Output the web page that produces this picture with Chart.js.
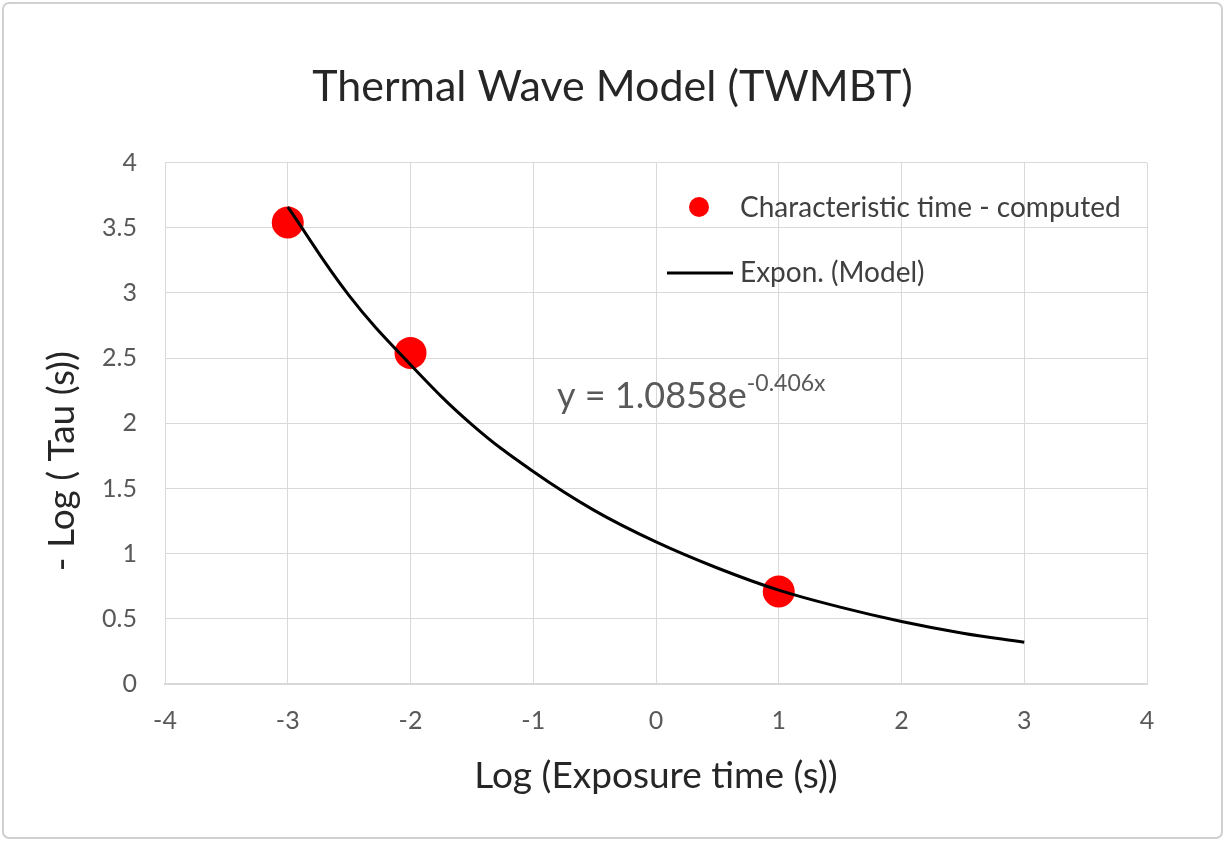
<!DOCTYPE html>
<html>
<head>
<meta charset="utf-8">
<script src="https://cdn.jsdelivr.net/npm/chart.js@4/dist/chart.umd.min.js"></script>
<style>
  body { margin: 0; background: #fff; }
  #wrap { width: 1225px; height: 841px; }
</style>
</head>
<body>
<div id="wrap"><canvas id="mychart" width="1225" height="841"></canvas></div>
<script>
// measured points
const exposureX = [-3, -2, 1];
const tauY = [3.54, 2.54, 0.71];

// trend line
const modelX = [-3, -2.5, -2, -1.5, -1, -0.5, 0, 0.5, 1, 1.5, 2, 2.5, 3];
const modelY = [3.66, 2.98, 2.45, 1.99, 1.63, 1.33, 1.09, 0.89, 0.72, 0.59, 0.48, 0.39, 0.32];

const xTicks = [-4, -3, -2, -1, 0, 1, 2, 3, 4];
const yTicks = [0, 0.5, 1, 1.5, 2, 2.5, 3, 3.5, 4];

const FONT = "Lato, 'Open Sans', sans-serif";
const GRID = "#d9d9d9";

const pts = exposureX.map((x, i) => ({ x: x, y: tauY[i] }));
const curve = modelX.map((x, i) => ({ x: x, y: modelY[i] }));

// white background + light frame around the whole picture
const frame = {
    id: "frame",
    beforeDraw(chart) {
        const c = chart.ctx;
        c.save();
        c.fillStyle = "#fff";
        c.fillRect(0, 0, chart.width, chart.height);
        c.strokeStyle = "#d0d0d0";
        c.lineWidth = 2;
        c.beginPath();
        c.roundRect(3, 3, chart.width - 6, chart.height - 6, 6);
        c.stroke();
        c.restore();
    }
};

// legend inside plot + equation label
const extras = {
    id: "extras",
    afterDraw(chart) {
        const c = chart.ctx;
        const ds = chart.data.datasets;
        c.save();
        c.textBaseline = "middle";
        c.textAlign = "left";
        c.font = "28px " + FONT;

        // entry 1: red dot
        c.fillStyle = ds[0].backgroundColor;
        c.beginPath();
        c.arc(699, 207, 10, 0, Math.PI * 2);
        c.fill();
        c.fillStyle = "#404040";
        c.fillText(ds[0].label, 740, 208);

        // entry 2: black line
        c.strokeStyle = ds[1].borderColor;
        c.lineWidth = 3;
        c.beginPath();
        c.moveTo(667, 273);
        c.lineTo(733, 273);
        c.stroke();
        c.fillText(ds[1].label, 740, 273);

        // equation
        c.fillStyle = "#595959";
        c.font = "36px " + FONT;
        const base = "y = 1.0858e";
        c.fillText(base, 557, 396);
        const w = c.measureText(base).width;
        c.font = "23px " + FONT;
        c.fillText("-0.406x", 557 + w, 384);
        c.restore();
    }
};

new Chart("mychart", {
    type: "scatter",
    data: {
        datasets: [{
            label: "Characteristic time - computed",
            data: pts,
            backgroundColor: "#ff0000",
            borderColor: "#ff0000",
            borderWidth: 0,
            pointRadius: 16,
            pointHoverRadius: 16,
            order: 2
        }, {
            label: "Expon. (Model)",
            type: "line",
            data: curve,
            borderColor: "#000000",
            borderWidth: 3,
            pointRadius: 0,
            fill: false,
            tension: 0.4,
            order: 1
        }]
    },
    plugins: [frame, extras],
    options: {
        responsive: false,
        animation: false,
        events: [],
        layout: { padding: { left: 39, right: 39, top: 0, bottom: 0 } },
        plugins: {
            legend: { display: false },
            tooltip: { enabled: false },
            title: {
                display: true,
                text: "Thermal Wave Model (TWMBT)",
                color: "#262626",
                font: { family: FONT, size: 43, weight: "normal" },
                padding: { top: 61, bottom: 50 }
            }
        },
        scales: {
            x: {
                type: "linear",
                min: -4,
                max: 4,
                afterBuildTicks(scale) { scale.ticks = xTicks.map(v => ({ value: v })); },
                afterFit(scale) { scale.height = 157; },
                grid: { color: GRID, lineWidth: 1, drawTicks: false },
                border: { color: GRID, width: 2 },
                ticks: {
                    color: "#595959",
                    font: { family: FONT, size: 25 },
                    padding: 22,
                    maxRotation: 0
                },
                title: {
                    display: true,
                    text: "Log (Exposure time (s))",
                    color: "#262626",
                    font: { family: FONT, size: 37 },
                    padding: { top: 0, bottom: 43 }
                }
            },
            y: {
                type: "linear",
                min: 0,
                max: 4,
                afterBuildTicks(scale) { scale.ticks = yTicks.map(v => ({ value: v })); },
                afterFit(scale) { scale.width = 126; },
                grid: { color: GRID, lineWidth: 1, drawTicks: false },
                border: { color: GRID, width: 1 },
                ticks: {
                    color: "#595959",
                    font: { family: FONT, size: 25 },
                    padding: 28,
                    callback: v => String(v)
                },
                title: {
                    display: true,
                    // trailing spaces push the label a bit lower, like the original
                    text: "- Log ( Tau (s))\u00a0\u00a0\u00a0\u00a0\u00a0\u00a0\u00a0\u00a0",
                    color: "#262626",
                    font: { family: FONT, size: 37 },
                    padding: { top: 1, bottom: 0 }
                }
            },
            // empty spacer on the right so the title centres on the page
            y2: {
                type: "linear",
                position: "right",
                min: 0,
                max: 4,
                afterFit(scale) { scale.width = 39; },
                grid: { display: false },
                border: { display: false },
                ticks: { display: false }
            }
        }
    }
});
</script>
</body>
</html>
